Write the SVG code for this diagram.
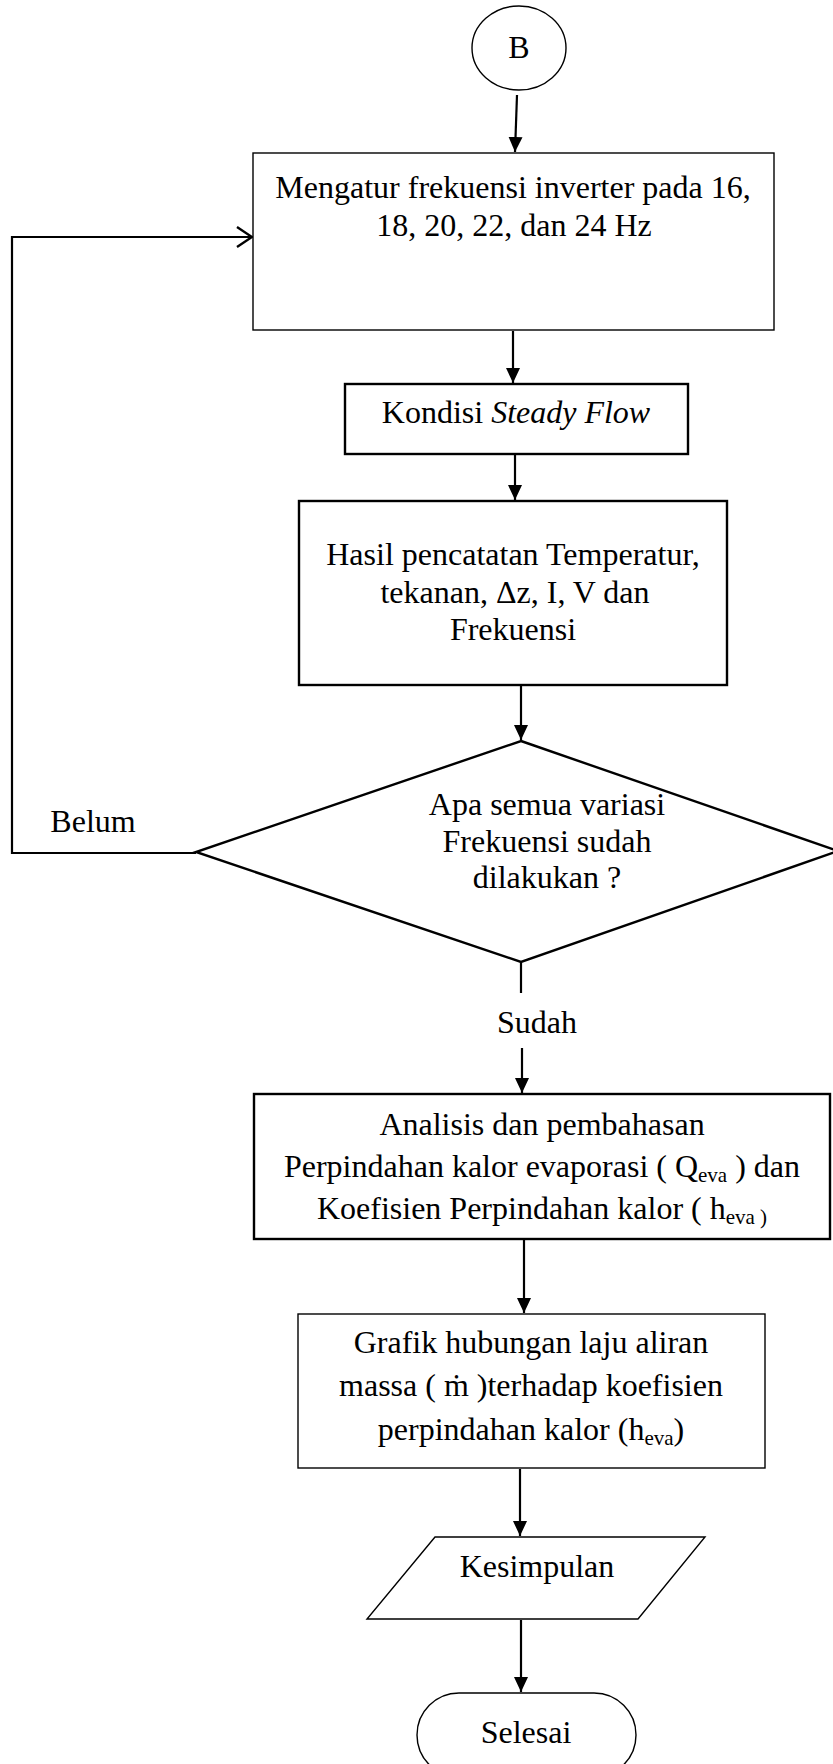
<svg xmlns="http://www.w3.org/2000/svg" width="833" height="1764" viewBox="0 0 833 1764">
<style>
  text { font-family: "Liberation Serif", "Times New Roman", serif; font-size: 32px; fill: #000; text-anchor: middle; }
  .thin { fill: #fff; stroke: #000; stroke-width: 1.4; }
  .thick { fill: #fff; stroke: #000; stroke-width: 2.4; }
  .conn { fill: none; stroke: #000; stroke-width: 2.2; }
  .sub { font-size: 21px; }
</style>
<defs>
  <marker id="arr" markerUnits="userSpaceOnUse" markerWidth="16" markerHeight="16" viewBox="0 0 16 16" refX="15" refY="8" orient="auto">
    <path d="M0,1 L15,8 L0,15 Z" fill="#000"/>
  </marker>
  <marker id="open" markerUnits="userSpaceOnUse" markerWidth="20" markerHeight="24" viewBox="0 0 20 24" refX="18" refY="12" orient="auto">
    <path d="M3,2 L18,12 L3,22" fill="none" stroke="#000" stroke-width="2.4"/>
  </marker>
</defs>

<g id="connectors">
  <line class="conn" x1="517" y1="95" x2="515" y2="152" marker-end="url(#arr)"/>
  <line class="conn" x1="513" y1="331" x2="513" y2="383" marker-end="url(#arr)"/>
  <line class="conn" x1="515" y1="455" x2="515" y2="500" marker-end="url(#arr)"/>
  <line class="conn" x1="521" y1="686" x2="521" y2="740" marker-end="url(#arr)"/>
  <polyline class="conn" points="196,853 12,853 12,237 252,237" marker-end="url(#open)"/>
  <line class="conn" x1="521" y1="962" x2="521" y2="993"/>
  <line class="conn" x1="522" y1="1048" x2="522" y2="1093" marker-end="url(#arr)"/>
  <line class="conn" x1="524" y1="1240" x2="524" y2="1313" marker-end="url(#arr)"/>
  <line class="conn" x1="520" y1="1469" x2="520" y2="1536" marker-end="url(#arr)"/>
  <line class="conn" x1="521" y1="1620" x2="521" y2="1692" marker-end="url(#arr)"/>
  <text x="93" y="832">Belum</text>
  <text x="537" y="1033">Sudah</text>
</g>

<g id="node-B">
  <ellipse class="thin" cx="519" cy="48" rx="47" ry="42"/>
  <text x="519" y="58">B</text>
</g>

<g id="node-frekuensi">
  <rect class="thin" x="253" y="153" width="521" height="177"/>
  <text x="513" y="198">Mengatur frekuensi inverter pada 16,</text>
  <text x="514" y="236">18, 20, 22, dan 24 Hz</text>
</g>

<g id="node-steady">
  <rect class="thick" x="345" y="384" width="343" height="70"/>
  <text x="516" y="423">Kondisi <tspan font-style="italic">Steady Flow</tspan></text>
</g>

<g id="node-hasil">
  <rect class="thick" x="299" y="501" width="428" height="184"/>
  <text x="513" y="565">Hasil pencatatan Temperatur,</text>
  <text x="515" y="603">tekanan, Δz, I, V dan</text>
  <text x="513" y="640">Frekuensi</text>
</g>

<g id="node-decision">
  <polygon class="thick" points="521,741 838,851 521,962 196,852"/>
  <text x="547" y="815">Apa semua variasi</text>
  <text x="547" y="852">Frekuensi sudah</text>
  <text x="547" y="888">dilakukan ?</text>
</g>

<g id="node-analisis">
  <rect class="thick" x="254" y="1094" width="576" height="145"/>
  <text x="542" y="1135">Analisis dan pembahasan</text>
  <text x="542" y="1177">Perpindahan kalor evaporasi ( Q<tspan class="sub" dy="5">eva</tspan><tspan dy="-5"> ) dan</tspan></text>
  <text x="542" y="1219">Koefisien Perpindahan kalor ( h<tspan class="sub" dy="5">eva )</tspan></text>
</g>

<g id="node-grafik">
  <rect class="thin" x="298" y="1314" width="467" height="154"/>
  <text x="531" y="1353">Grafik hubungan laju aliran</text>
  <text x="531" y="1396">massa ( ṁ )terhadap koefisien</text>
  <text x="531" y="1440">perpindahan kalor (h<tspan class="sub" dy="5">eva</tspan><tspan dy="-5">)</tspan></text>
</g>

<g id="node-kesimpulan">
  <polygon class="thin" points="435,1537 705,1537 638,1619 367,1619"/>
  <text x="537" y="1577">Kesimpulan</text>
</g>

<g id="node-selesai">
  <rect class="thin" x="417" y="1693" width="219" height="84" rx="42" ry="42"/>
  <text x="526" y="1743">Selesai</text>
</g>
</svg>
